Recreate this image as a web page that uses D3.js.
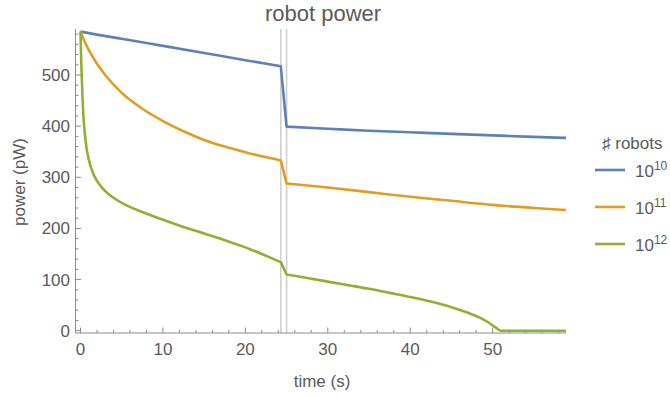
<!DOCTYPE html>
<html lang="en">
<head>
<meta charset="utf-8">
<title>robot power</title>
<script type="text/javascript" src="https://d3js.org/d3.v7.min.js"></script>
<style>
  body { margin: 0; background: #fff; }
  text { font-family: "Liberation Sans", Arial, sans-serif; fill: #5a5a5a; }
</style>
</head>
<body>
<div id="container"></div>
<script type="text/javascript">

var w = 670;
var h = 396;

// data
var blueT   = [0, 2, 5, 10, 15, 20, 24.3, 25.0, 30, 35, 40, 45, 50, 55, 58.9];
var blueP   = [585, 579, 571, 557, 543, 529, 517, 399, 395, 391, 388, 385, 382, 379, 377];
var orangeT = [0, 0.5, 1, 2, 3, 5, 7.5, 10, 12.5, 15, 17.5, 20, 22, 24.3, 25.0, 30, 35, 40, 45, 50, 55, 58.9];
var orangeP = [585, 565, 549, 522, 500, 465, 434, 410, 390, 373, 360, 349, 341, 333, 288, 280, 271, 262, 254, 246, 240, 236];
var greenT  = [0, 0.1, 0.2, 0.35, 0.5, 0.75, 1, 1.5, 2, 3, 4, 5, 7.5, 10, 12.5, 15, 17.5, 20, 22, 24.3, 25.0, 27.5, 30, 32.5, 35, 37.5, 40, 42.5, 45, 47, 48.5, 49.5, 50.3, 51, 55, 58.9];
var greenP  = [585, 520, 475, 420, 390, 355, 335, 309, 293, 273, 260, 250, 232, 217, 203, 190, 177, 163, 150, 134, 110, 103, 96, 89, 82, 74, 66, 57, 46, 35, 25, 16, 7, 0, 0, 0];

var seriesNames = ["10", "11", "12"];   // exponents of 10
var colors = ["#5e81b5", "#e19c24", "#8fb032"];
var switchTimes = [24.3, 25.0];
var xTicks = [0, 10, 20, 30, 40, 50];
var yTicks = [0, 100, 200, 300, 400, 500];

var series = [
  blueT.map(function(t, i) { return [t, blueP[i]]; }),
  orangeT.map(function(t, i) { return [t, orangeP[i]]; }),
  greenT.map(function(t, i) { return [t, greenP[i]]; })
];

var svg = d3.select("div#container").append("svg")
  .attr("width", w).attr("height", h);

var x = d3.scaleLinear().domain([0, 58.9]).range([80.5, 566]);
var y = d3.scaleLinear().domain([0, 590]).range([330.7, 29]);

var axisX = 75.5, axisY = 333;

// switch lines
svg.selectAll("line.switch")
  .data(switchTimes)
  .enter().append("line")
  .attr("class", "switch")
  .attr("x1", function(d) { return x(d); }).attr("x2", function(d) { return x(d); })
  .attr("y1", 29).attr("y2", axisY)
  .attr("stroke", "#cfcfcf").attr("stroke-width", 1.6);

// axes
var gx = svg.append("g");
gx.append("line").attr("x1", axisX).attr("x2", 566).attr("y1", axisY).attr("y2", axisY)
  .attr("stroke", "#8c8c8c").attr("stroke-width", 1);
var xMinor = d3.range(0, 59, 2).filter(function(d) { return d % 10 !== 0; });
gx.selectAll("line.minor").data(xMinor).enter().append("line")
  .attr("x1", function(d) { return x(d); }).attr("x2", function(d) { return x(d); })
  .attr("y1", axisY).attr("y2", axisY - 3)
  .attr("stroke", "#8c8c8c");
gx.selectAll("line.major").data(xTicks).enter().append("line")
  .attr("x1", function(d) { return x(d); }).attr("x2", function(d) { return x(d); })
  .attr("y1", axisY).attr("y2", axisY - 5.5)
  .attr("stroke", "#8c8c8c");
gx.selectAll("text").data(xTicks).enter().append("text")
  .attr("x", function(d) { return x(d); }).attr("y", 355)
  .attr("text-anchor", "middle").attr("font-size", 17)
  .text(function(d) { return d; });

var gy = svg.append("g");
gy.append("line").attr("x1", axisX).attr("x2", axisX).attr("y1", axisY).attr("y2", 29)
  .attr("stroke", "#8c8c8c").attr("stroke-width", 1);
var yMinor = d3.range(0, 590, 20).filter(function(d) { return d % 100 !== 0; });
gy.selectAll("line.minor").data(yMinor).enter().append("line")
  .attr("x1", axisX).attr("x2", axisX + 3)
  .attr("y1", function(d) { return y(d); }).attr("y2", function(d) { return y(d); })
  .attr("stroke", "#8c8c8c");
gy.selectAll("line.major").data(yTicks).enter().append("line")
  .attr("x1", axisX).attr("x2", axisX + 5.5)
  .attr("y1", function(d) { return y(d); }).attr("y2", function(d) { return y(d); })
  .attr("stroke", "#8c8c8c");
gy.selectAll("text").data(yTicks).enter().append("text")
  .attr("x", 70).attr("y", function(d) { return y(d) + 6; })
  .attr("text-anchor", "end").attr("font-size", 17)
  .text(function(d) { return d; });

// lines: smooth before and after the switch, straight across it
var line = d3.line()
  .x(function(d) { return x(d[0]); })
  .y(function(d) { return y(d[1]); })
  .curve(d3.curveMonotoneX);

function seriesPath(d) {
  var before = d.filter(function(p) { return p[0] <= switchTimes[0]; });
  var after = d.filter(function(p) { return p[0] >= switchTimes[1]; });
  return line(before) + line(after).replace(/^M/, "L");
}

svg.selectAll("path.series")
  .data(series)
  .enter().append("path")
  .attr("class", "series")
  .attr("d", seriesPath)
  .attr("fill", "none")
  .attr("stroke", function(d, i) { return colors[i]; })
  .attr("stroke-width", 2.6)
  .attr("stroke-linejoin", "round");

// labels
svg.append("text").attr("x", 323).attr("y", 21).attr("text-anchor", "middle")
  .attr("font-size", 22).text("robot power");
svg.append("text").attr("x", 322).attr("y", 387).attr("text-anchor", "middle")
  .attr("font-size", 17).text("time (s)");
svg.append("text").attr("transform", "translate(25,182) rotate(-90)")
  .attr("text-anchor", "middle").attr("font-size", 17).text("power (pW)");

// legend
var leg = svg.append("g");
leg.append("text").attr("x", 602).attr("y", 149).attr("font-size", 17).text("\u266F robots");
var items = leg.selectAll("g.item").data(seriesNames).enter().append("g")
  .attr("transform", function(d, i) { return "translate(0," + (170 + i * 37) + ")"; });
items.append("line").attr("x1", 595).attr("x2", 625).attr("y1", 0).attr("y2", 0)
  .attr("stroke", function(d, i) { return colors[i]; }).attr("stroke-width", 2.6);
var lt = items.append("text").attr("x", 635).attr("y", 7).attr("font-size", 17);
lt.append("tspan").text("10");
lt.append("tspan").attr("dy", -7).attr("font-size", 12).text(function(d) { return d; });

</script>
</body>
</html>
